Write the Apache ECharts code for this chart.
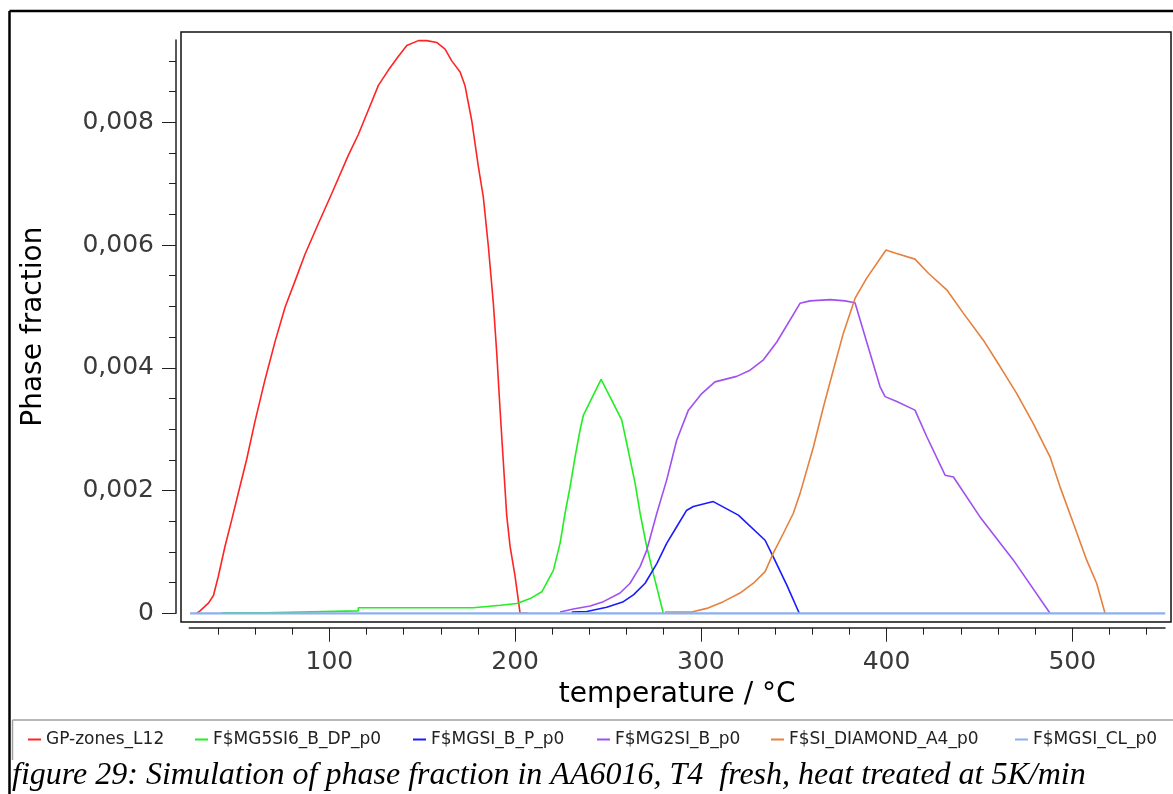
<!DOCTYPE html>
<html>
<head>
<meta charset="utf-8">
<script src="https://cdn.jsdelivr.net/npm/echarts@6/dist/echarts.min.js"></script>
<style>
html,body{margin:0;padding:0;background:#fff;}
#chart{width:1173px;height:794px;}
</style>
</head>
<body>
<div id="chart"></div>
<script>
// ---- data (temperature °C, phase fraction) ----
const seriesNames = ['GP-zones_L12','F$MG5SI6_B_DP_p0','F$MGSI_B_P_p0','F$MG2SI_B_p0','F$SI_DIAMOND_A4_p0','F$MGSI_CL_p0'];
const seriesColors = ['#ff2424','#22ee22','#1a1aff','#a050f0','#e6803c','#8ab0f0'];

const gpZones = [[28.6,0],[30.4,0.00004],[35,0.00017],[37.6,0.00029],[40.2,0.0006],[43.9,0.0011],[47.5,0.00153],[51,0.00196],[55.5,0.00251],[60,0.00313],[65.4,0.00381],[70.8,0.00443],[76.2,0.00499],[81.6,0.00542],[86.9,0.00585],[94.1,0.00635],[101.3,0.00684],[110.2,0.00746],[115.6,0.0078],[121,0.0082],[126.4,0.0086],[131.8,0.00885],[137.1,0.00907],[141.7,0.00925],[147.9,0.00933],[152.4,0.00933],[157.8,0.0093],[162.3,0.00919],[165.9,0.009],[170.4,0.00882],[173,0.0086],[176.7,0.00802],[180.2,0.00728],[182.9,0.00678],[185.6,0.00598],[188.3,0.00505],[190.1,0.00425],[191.9,0.00332],[193.7,0.00245],[195.5,0.00159],[197.3,0.00109],[200,0.0006],[202.7,0],[207.1,0]];
const mg5si6 = [[42.1,0.00001],[65.4,0.00001],[65.4,0.00004],[115.6,0.00004],[115.6,0.00009],[177.4,0.00009],[185,0.00011],[192,0.00013],[200.9,0.00016],[208.1,0.00024],[214.4,0.00035],[220.6,0.0007],[224.2,0.00114],[226.9,0.00163],[229.6,0.00206],[232.3,0.00255],[235,0.00299],[236.8,0.00323],[246.3,0.00381],[257.4,0.00315],[260.1,0.00277],[264.6,0.00212],[267.3,0.00163],[270.9,0.00108],[274.4,0.00065],[279.8,0]];
const mgsiBP = [[230.5,0.00002],[238.6,0.00003],[249.3,0.0001],[258.3,0.00019],[263.7,0.0003],[270,0.00049],[276.3,0.00081],[281.6,0.00114],[287,0.00141],[292.4,0.00168],[296,0.00174],[306.7,0.00182],[320.2,0.0016],[334.6,0.00119],[339,0.00092],[346.3,0.00046],[353,0]];
const mg2si = [[224.2,0.00002],[231.4,0.00007],[240.4,0.00012],[247.5,0.00019],[256.5,0.00033],[261.9,0.00049],[267.3,0.00076],[270.9,0.00103],[276.3,0.00163],[281.6,0.00217],[287,0.00282],[293.3,0.00331],[300.5,0.00358],[307.6,0.00377],[319.3,0.00386],[326.5,0.00396],[333.7,0.00413],[340.9,0.00442],[353.4,0.00505],[358.8,0.00509],[369.6,0.00511],[377.6,0.00509],[383,0.00506],[396.5,0.00369],[399.2,0.00353],[405.5,0.00345],[415.3,0.00331],[421.6,0.00288],[431.5,0.00225],[436,0.00222],[450.3,0.00157],[468.2,0.00087],[488,0]];
const siDiamond = [[280.7,0.00002],[295.1,0.00002],[303.2,0.00008],[312.1,0.00019],[321.1,0.00033],[328.3,0.00049],[334.6,0.00068],[339,0.00098],[344.4,0.0013],[349.8,0.00163],[353.4,0.00195],[360.6,0.00271],[366,0.00336],[371.3,0.00396],[376.7,0.00456],[383,0.00513],[389.3,0.00546],[399.7,0.00592],[404.5,0.00587],[415.3,0.00577],[422.5,0.00554],[432.4,0.00527],[441.3,0.00489],[452.1,0.00445],[461.1,0.00402],[470.1,0.00358],[479,0.00309],[488,0.00255],[493.4,0.00206],[500.5,0.00147],[507.7,0.00087],[513.1,0.00049],[517.6,0]];
const mgsiCL = [[25,0],[550,0]];

// ---- axis ticks ----
const xMajorTicks = [100,200,300,400,500];
const xMinorTicks = [40,60,80,120,140,160,180,220,240,260,280,320,340,360,380,420,440,460,480,520,540];
const yMajorTicks = [0,0.002,0.004,0.006,0.008];
const yMinorTicks = [0.0005,0.001,0.0015,0.0025,0.003,0.0035,0.0045,0.005,0.0055,0.0065,0.007,0.0075,0.0085,0.009];
const xRange = [24.6, 549.9];
const yRange = [0, 0.00934];

const chart = echarts.init(document.getElementById('chart'), null, {renderer:'canvas'});
const FONT = 'DejaVu Sans';
const dataSets = [gpZones, mg5si6, mgsiBP, mg2si, siDiamond, mgsiCL];
const legendLefts = [28, 195, 413, 597, 771, 1015];

const option = {
  animation: false,
  backgroundColor: '#fff',
  title: {
    text: 'figure 29: Simulation of phase fraction in AA6016, T4  fresh, heat treated at 5K/min',
    left: 12, top: 760, padding: [0,0,0,0],
    textStyle: {fontFamily:'Liberation Serif', fontStyle:'italic', fontWeight:'normal', fontSize:32, color:'#000'}
  },
  legend: seriesNames.map((n,i)=>({
    data:[n], left: legendLefts[i], top: 731, icon:'rect', itemWidth:13, itemHeight:2,
    textStyle:{fontFamily:FONT, fontSize:17, color:'#222'}, padding:0
  })),
  grid: [
    {left:181, top:32, width:990, height:590, show:true, borderColor:'#111', borderWidth:1.5, backgroundColor:'transparent'},
    {left:189.3, right:8, top:40, bottom:180.7, show:false}
  ],
  xAxis: [
    {gridIndex:0, type:'value', show:false, min:0, max:1},
    {gridIndex:1, type:'value', position:'bottom', min:xRange[0], max:xRange[1], offset:14.4,
     name:'temperature / °C', nameLocation:'middle', nameGap:53,
     nameTextStyle:{fontFamily:FONT, fontSize:28, color:'#000'},
     axisLine:{show:true, onZero:false, lineStyle:{color:'#222', width:1.5}},
     axisTick:{show:true, customValues:xMajorTicks, length:14, lineStyle:{color:'#222', width:1}},
     axisLabel:{show:true, customValues:xMajorTicks, margin:22, fontFamily:FONT, fontSize:25, color:'#3a3a3a'},
     splitLine:{show:false}},
    {gridIndex:1, type:'value', position:'bottom', min:xRange[0], max:xRange[1], offset:14.4,
     axisLine:{show:false, onZero:false},
     axisTick:{show:true, customValues:xMinorTicks, length:7, lineStyle:{color:'#222', width:1}},
     axisLabel:{show:false}, splitLine:{show:false}}
  ],
  yAxis: [
    {gridIndex:0, type:'value', show:false, min:0, max:1},
    {gridIndex:1, type:'value', position:'left', min:yRange[0], max:yRange[1], offset:13.3,
     name:'Phase fraction', nameLocation:'middle', nameGap:128,
     nameTextStyle:{fontFamily:FONT, fontSize:28, color:'#000'},
     axisLine:{show:true, onZero:false, lineStyle:{color:'#222', width:1.5}},
     axisTick:{show:true, customValues:yMajorTicks, length:14, lineStyle:{color:'#222', width:1}},
     axisLabel:{show:true, customValues:yMajorTicks, margin:22, fontFamily:FONT, fontSize:25, color:'#3a3a3a',
       formatter: v => v === 0 ? '0' : v.toFixed(3).replace('.', ',')},
     splitLine:{show:false}},
    {gridIndex:1, type:'value', position:'left', min:yRange[0], max:yRange[1], offset:13.3,
     axisLine:{show:false, onZero:false},
     axisTick:{show:true, customValues:yMinorTicks, length:7, lineStyle:{color:'#222', width:1}},
     axisLabel:{show:false}, splitLine:{show:false}}
  ],
  graphic: [
    {type:'line', shape:{x1:9.5, y1:11, x2:1173, y2:11}, style:{stroke:'#000', lineWidth:2.5}},
    {type:'line', shape:{x1:9.5, y1:11, x2:9.5, y2:794}, style:{stroke:'#000', lineWidth:2.5}},
    {type:'line', shape:{x1:12.5, y1:720, x2:1173, y2:720}, style:{stroke:'#a0a0a0', lineWidth:1.5}},
    {type:'line', shape:{x1:12.5, y1:720, x2:12.5, y2:760}, style:{stroke:'#a0a0a0', lineWidth:1.5}}
  ],
  series: dataSets.map((d,i)=>({
    name: seriesNames[i], type:'line', xAxisIndex:1, yAxisIndex:1, data:d,
    showSymbol:false, symbol:'none', clip:false, smooth:false,
    lineStyle:{color:seriesColors[i], width: i===5 ? 2.2 : 1.6},
    itemStyle:{color:seriesColors[i]}
  }))
};
chart.setOption(option);
</script>
</body>
</html>
